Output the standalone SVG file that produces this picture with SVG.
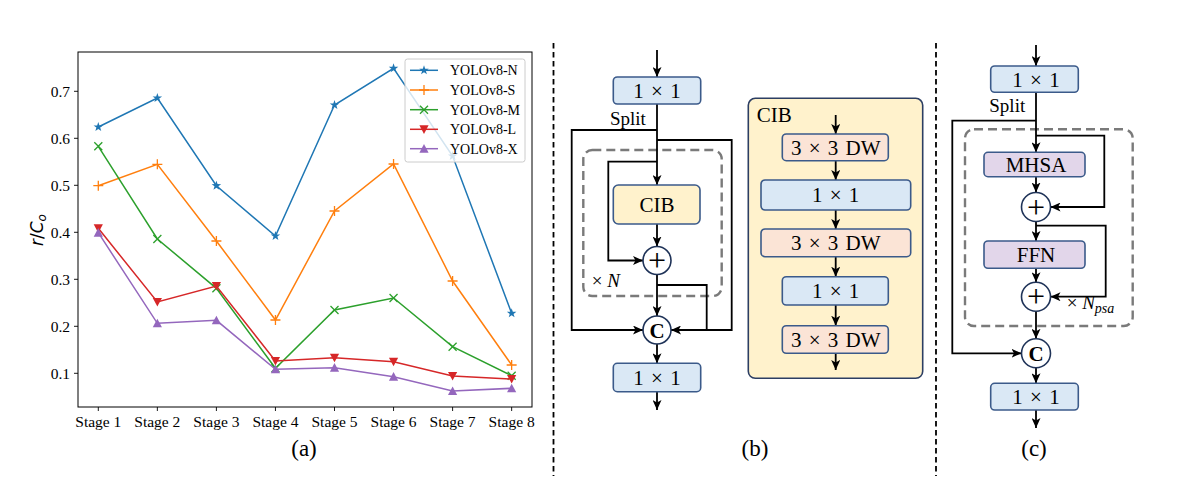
<svg xmlns="http://www.w3.org/2000/svg" xmlns:xlink="http://www.w3.org/1999/xlink" width="1185" height="492" viewBox="0 0 1185 492">
<style>
.tick{font-family:"Liberation Serif","Times New Roman",serif;font-size:15.5px;fill:#000}
.leg{font-family:"Liberation Serif","Times New Roman",serif;font-size:14px;fill:#000}
.lbl{font-family:"Liberation Serif","Times New Roman",serif;font-size:21px;fill:#000;text-anchor:middle;word-spacing:2px}
.cap{font-family:"Liberation Serif","Times New Roman",serif;font-size:23px;fill:#000;text-anchor:middle}
.sm{font-family:"Liberation Serif","Times New Roman",serif;font-size:19px;fill:#000}
.box{stroke:#3b5a8a;stroke-width:1.6}
.b1{fill:#dae8f5}
.by{fill:#fff2cc}
.bp{fill:#fbe4d6}
.bl{fill:#e2d6ea}
.circ{fill:#fff;stroke:#1f3358;stroke-width:1.6}
.con{fill:none;stroke:#000;stroke-width:1.8}
.arr{marker-end:url(#ah)}
.dash{fill:none;stroke:#7a7a7a;stroke-width:2.4;stroke-dasharray:9 5}
.sep{stroke:#000;stroke-width:1.8;stroke-dasharray:5.5 3.5}
.ser{fill:none;stroke-width:1.5}
</style>
<defs>
<marker id="ah" markerUnits="userSpaceOnUse" markerWidth="10" markerHeight="9" refX="10" refY="4.5" orient="auto">
<path d="M0,0 L10,4.5 L0,9 L2.5,4.5 z" fill="#000"/>
</marker>
<polygon id="mstar" points="0,-5 1.18,-1.62 4.76,-1.55 1.9,0.62 2.94,4.05 0,2 -2.94,4.05 -1.9,0.62 -4.76,-1.55 -1.18,-1.62" fill="#1f77b4"/>
<path id="mplus" d="M-5,0H5M0,-5V5" stroke="#ff7f0e" stroke-width="1.3" fill="none"/>
<path id="mx" d="M-4,-4L4,4M-4,4L4,-4" stroke="#2ca02c" stroke-width="1.3" fill="none"/>
<polygon id="mdown" points="-4.6,-4 4.6,-4 0,4.6" fill="#d62728"/>
<polygon id="mup" points="-4.6,4 4.6,4 0,-4.6" fill="#9467bd"/>
</defs>
<rect width="1185" height="492" fill="#fff"/>

<!-- Panel (a): chart -->
<g id="chart">
<rect x="78" y="52" width="454" height="355" fill="none" stroke="#000" stroke-width="1"/>
<g stroke="#000" stroke-width="0.9">
<line x1="74" y1="373.3" x2="78" y2="373.3"/>
<line x1="74" y1="326.3" x2="78" y2="326.3"/>
<line x1="74" y1="279.3" x2="78" y2="279.3"/>
<line x1="74" y1="232.3" x2="78" y2="232.3"/>
<line x1="74" y1="185.3" x2="78" y2="185.3"/>
<line x1="74" y1="138.3" x2="78" y2="138.3"/>
<line x1="74" y1="91.3" x2="78" y2="91.3"/>
<line x1="98.3" y1="407" x2="98.3" y2="411"/>
<line x1="157.35" y1="407" x2="157.35" y2="411"/>
<line x1="216.4" y1="407" x2="216.4" y2="411"/>
<line x1="275.45" y1="407" x2="275.45" y2="411"/>
<line x1="334.5" y1="407" x2="334.5" y2="411"/>
<line x1="393.55" y1="407" x2="393.55" y2="411"/>
<line x1="452.6" y1="407" x2="452.6" y2="411"/>
<line x1="511.65" y1="407" x2="511.65" y2="411"/>
</g>
<g class="tick" text-anchor="end">
<text x="70" y="378.8">0.1</text>
<text x="70" y="331.8">0.2</text>
<text x="70" y="284.8">0.3</text>
<text x="70" y="237.8">0.4</text>
<text x="70" y="190.8">0.5</text>
<text x="70" y="143.8">0.6</text>
<text x="70" y="96.8">0.7</text>
</g>
<g class="tick" text-anchor="middle">
<text x="98.3" y="427">Stage 1</text>
<text x="157.35" y="427">Stage 2</text>
<text x="216.4" y="427">Stage 3</text>
<text x="275.45" y="427">Stage 4</text>
<text x="334.5" y="427">Stage 5</text>
<text x="393.55" y="427">Stage 6</text>
<text x="452.6" y="427">Stage 7</text>
<text x="511.65" y="427">Stage 8</text>
</g>
<text transform="translate(43,230) rotate(-90)" text-anchor="middle" font-family="DejaVu Sans,sans-serif" font-size="17"><tspan font-style="italic">r</tspan>/<tspan font-style="italic">C</tspan><tspan font-style="italic" font-size="12" dy="3">o</tspan></text>

<g id="series-n">
<polyline class="ser" stroke="#1f77b4" points="98.3,127 157.35,98 216.4,185.7 275.45,236 334.5,105 393.55,68.3 452.6,156 511.65,313.3"/>
<use xlink:href="#mstar" x="98.3" y="127"/><use xlink:href="#mstar" x="157.35" y="98"/><use xlink:href="#mstar" x="216.4" y="185.7"/><use xlink:href="#mstar" x="275.45" y="236"/><use xlink:href="#mstar" x="334.5" y="105"/><use xlink:href="#mstar" x="393.55" y="68.3"/><use xlink:href="#mstar" x="452.6" y="156"/><use xlink:href="#mstar" x="511.65" y="313.3"/>
</g>
<g id="series-s">
<polyline class="ser" stroke="#ff7f0e" points="98.3,185.7 157.35,164.3 216.4,241 275.45,320 334.5,211 393.55,164 452.6,281 511.65,365"/>
<use xlink:href="#mplus" x="98.3" y="185.7"/><use xlink:href="#mplus" x="157.35" y="164.3"/><use xlink:href="#mplus" x="216.4" y="241"/><use xlink:href="#mplus" x="275.45" y="320"/><use xlink:href="#mplus" x="334.5" y="211"/><use xlink:href="#mplus" x="393.55" y="164"/><use xlink:href="#mplus" x="452.6" y="281"/><use xlink:href="#mplus" x="511.65" y="365"/>
</g>
<g id="series-m">
<polyline class="ser" stroke="#2ca02c" points="98.3,146.3 157.35,239 216.4,288.3 275.45,368.3 334.5,310 393.55,298 452.6,346.7 511.65,375.7"/>
<use xlink:href="#mx" x="98.3" y="146.3"/><use xlink:href="#mx" x="157.35" y="239"/><use xlink:href="#mx" x="216.4" y="288.3"/><use xlink:href="#mx" x="275.45" y="368.3"/><use xlink:href="#mx" x="334.5" y="310"/><use xlink:href="#mx" x="393.55" y="298"/><use xlink:href="#mx" x="452.6" y="346.7"/><use xlink:href="#mx" x="511.65" y="375.7"/>
</g>
<g id="series-l">
<polyline class="ser" stroke="#d62728" points="98.3,228.3 157.35,302 216.4,286 275.45,361 334.5,357.7 393.55,361.7 452.6,376 511.65,379"/>
<use xlink:href="#mdown" x="98.3" y="228.3"/><use xlink:href="#mdown" x="157.35" y="302"/><use xlink:href="#mdown" x="216.4" y="286"/><use xlink:href="#mdown" x="275.45" y="361"/><use xlink:href="#mdown" x="334.5" y="357.7"/><use xlink:href="#mdown" x="393.55" y="361.7"/><use xlink:href="#mdown" x="452.6" y="376"/><use xlink:href="#mdown" x="511.65" y="379"/>
</g>
<g id="series-x">
<polyline class="ser" stroke="#9467bd" points="98.3,232.7 157.35,323.3 216.4,320.3 275.45,369.3 334.5,367.7 393.55,376.7 452.6,391 511.65,388.3"/>
<use xlink:href="#mup" x="98.3" y="232.7"/><use xlink:href="#mup" x="157.35" y="323.3"/><use xlink:href="#mup" x="216.4" y="320.3"/><use xlink:href="#mup" x="275.45" y="369.3"/><use xlink:href="#mup" x="334.5" y="367.7"/><use xlink:href="#mup" x="393.55" y="376.7"/><use xlink:href="#mup" x="452.6" y="391"/><use xlink:href="#mup" x="511.65" y="388.3"/>
</g>

<g id="legend">
<rect x="405" y="59" width="120" height="103" rx="2.5" fill="#fff" fill-opacity="0.8" stroke="#cccccc" stroke-width="1"/>
<line x1="410" y1="70.3" x2="438" y2="70.3" stroke="#1f77b4" stroke-width="1.5"/><use xlink:href="#mstar" x="424" y="70.3"/>
<line x1="410" y1="90" x2="438" y2="90" stroke="#ff7f0e" stroke-width="1.5"/><use xlink:href="#mplus" x="424" y="90"/>
<line x1="410" y1="109.7" x2="438" y2="109.7" stroke="#2ca02c" stroke-width="1.5"/><use xlink:href="#mx" x="424" y="109.7"/>
<line x1="410" y1="129.3" x2="438" y2="129.3" stroke="#d62728" stroke-width="1.5"/><use xlink:href="#mdown" x="424" y="129.3"/>
<line x1="410" y1="148.7" x2="438" y2="148.7" stroke="#9467bd" stroke-width="1.5"/><use xlink:href="#mup" x="424" y="148.7"/>
<text class="leg" x="450" y="75.3">YOLOv8-N</text>
<text class="leg" x="450" y="95">YOLOv8-S</text>
<text class="leg" x="450" y="114.7">YOLOv8-M</text>
<text class="leg" x="450" y="134.3">YOLOv8-L</text>
<text class="leg" x="450" y="153.7">YOLOv8-X</text>
</g>
</g>
<text class="cap" x="304" y="456">(a)</text>

<!-- separators -->
<line class="sep" x1="553.5" y1="43" x2="553.5" y2="476"/>
<line class="sep" x1="936" y1="43" x2="936" y2="476"/>

<!-- Panel (b) -->
<rect class="dash" x="583.3" y="150" width="138.4" height="146" rx="9"/>
<g id="connectors-b">
<path class="con arr" d="M657,50 V77"/>
<path class="con arr" d="M657,104 V185"/>
<path class="con arr" d="M657,130 H571.7 V330 H643"/>
<path class="con arr" d="M657,140 H731.7 V330 H671"/>
<path class="con arr" d="M657,161.7 H608.3 V260.5 H643"/>
<path class="con arr" d="M657,224 V246.5"/>
<path class="con arr" d="M657,274.5 V316"/>
<path class="con" d="M657,285 H706.7 V330"/>
<path class="con arr" d="M657,344 V363.3"/>
<path class="con arr" d="M657,391.7 V410"/>
</g>
<g id="b-in"><rect class="box b1" x="613.3" y="77" width="87.4" height="27" rx="4"/><text class="lbl" x="657" y="98">1 × 1</text></g>
<text class="sm" x="610" y="125">Split</text>
<g id="b-cib"><rect class="box by" x="613.3" y="185" width="86.7" height="39" rx="5"/><text class="lbl" x="657" y="212">CIB</text></g>
<g id="b-plus"><circle class="circ" cx="657" cy="260.5" r="14"/><text x="657" y="271" text-anchor="middle" font-family="Liberation Serif,serif" font-size="32">+</text></g>
<g id="b-cat"><circle class="circ" cx="657" cy="330" r="14"/><text x="657" y="337.5" text-anchor="middle" font-family="Liberation Serif,serif" font-size="21" font-weight="bold">C</text></g>
<text class="sm" x="591.7" y="286.7">× <tspan font-style="italic">N</tspan></text>
<g id="b-out"><rect class="box b1" x="613.3" y="363.3" width="87.4" height="28.4" rx="4"/><text class="lbl" x="657" y="385">1 × 1</text></g>
<text class="cap" x="755" y="456">(b)</text>

<!-- CIB detail -->
<g id="cib-detail">
<rect x="748.3" y="98.3" width="174.4" height="280" rx="7" fill="#fff2cc" stroke="#2c3e63" stroke-width="1.6"/>
<text x="756.7" y="121.7" font-family="Liberation Serif,serif" font-size="21">CIB</text>
<g id="connectors-cib">
<path class="con arr" d="M835.7,115 V134"/>
<path class="con arr" d="M835.7,160.7 V180"/>
<path class="con arr" d="M835.7,210 V229"/>
<path class="con arr" d="M835.7,256.7 V276.7"/>
<path class="con arr" d="M835.7,305 V325.7"/>
<path class="con arr" d="M835.7,353.3 V370"/>
</g>
<g id="cib-dw1"><rect class="box bp" x="782.3" y="134" width="106" height="26.7" rx="4"/><text class="lbl" x="835.7" y="154.5">3 × 3 DW</text></g>
<g id="cib-pw1"><rect class="box b1" x="761" y="180" width="149.7" height="30" rx="4"/><text class="lbl" x="835.7" y="202">1 × 1</text></g>
<g id="cib-dw2"><rect class="box bp" x="761" y="229" width="149.7" height="27.7" rx="4"/><text class="lbl" x="835.7" y="250">3 × 3 DW</text></g>
<g id="cib-pw2"><rect class="box b1" x="782.3" y="276.7" width="106" height="28.3" rx="4"/><text class="lbl" x="835.7" y="298">1 × 1</text></g>
<g id="cib-dw3"><rect class="box bp" x="782.3" y="325.7" width="106" height="27.6" rx="4"/><text class="lbl" x="835.7" y="346.5">3 × 3 DW</text></g>
</g>

<!-- Panel (c) -->
<rect class="dash" x="965" y="129.3" width="167.7" height="196.7" rx="9"/>
<g id="connectors-c">
<path class="con arr" d="M1036,45 V66"/>
<path class="con arr" d="M1036,92.3 V152.3"/>
<path class="con arr" d="M1036,120.7 H952.3 V353.3 H1021.5"/>
<path class="con arr" d="M1036,135.7 H1104.3 V207 H1050.5"/>
<path class="con arr" d="M1036,176.7 V192.5"/>
<path class="con arr" d="M1036,221.5 V241"/>
<path class="con arr" d="M1036,225.7 H1105.7 V296.7 H1050.5"/>
<path class="con arr" d="M1036,268.3 V282.2"/>
<path class="con arr" d="M1036,311.2 V338.8"/>
<path class="con arr" d="M1036,367.8 V383.3"/>
<path class="con arr" d="M1036,410 V428"/>
</g>
<g id="c-in"><rect class="box b1" x="990.7" y="66" width="87.6" height="26.3" rx="4"/><text class="lbl" x="1036" y="86.5">1 × 1</text></g>
<text class="sm" x="989.3" y="111.7">Split</text>
<g id="c-mhsa"><rect class="box bl" x="984" y="152.3" width="101" height="24.4" rx="4"/><text class="lbl" x="1036" y="172">MHSA</text></g>
<g id="c-plus1"><circle class="circ" cx="1036" cy="207" r="14.5"/><text x="1036" y="217.5" text-anchor="middle" font-family="Liberation Serif,serif" font-size="32">+</text></g>
<g id="c-ffn"><rect class="box bl" x="984" y="241" width="101" height="27.3" rx="4"/><text class="lbl" x="1036" y="262">FFN</text></g>
<g id="c-plus2"><circle class="circ" cx="1036" cy="296.7" r="14.5"/><text x="1036" y="307.2" text-anchor="middle" font-family="Liberation Serif,serif" font-size="32">+</text></g>
<text class="sm" x="1066.7" y="309.3">× <tspan font-style="italic">N</tspan><tspan font-style="italic" font-size="14" dy="4">psa</tspan></text>
<g id="c-cat"><circle class="circ" cx="1036" cy="353.3" r="14.5"/><text x="1036" y="360.8" text-anchor="middle" font-family="Liberation Serif,serif" font-size="21" font-weight="bold">C</text></g>
<g id="c-out"><rect class="box b1" x="990.7" y="383.3" width="87.6" height="26.7" rx="4"/><text class="lbl" x="1036" y="404">1 × 1</text></g>
<text class="cap" x="1034" y="456">(c)</text>
</svg>
